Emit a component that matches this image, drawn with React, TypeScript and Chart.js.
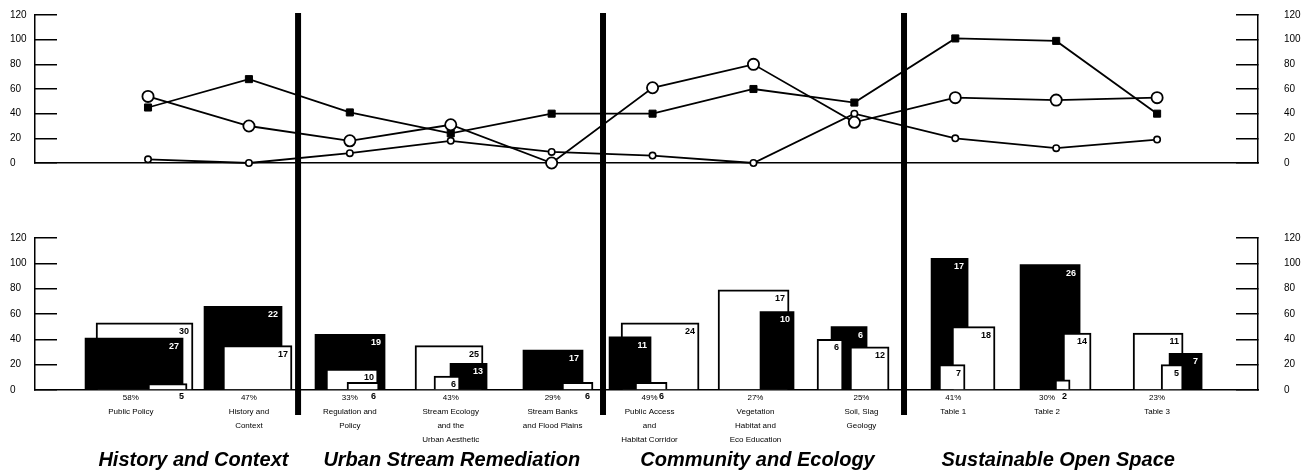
import React, { useEffect, useRef } from "react";
import { Chart, registerables } from "chart.js";

Chart.register(...registerables);
Chart.defaults.font.family = "'Liberation Sans', Arial, sans-serif";
Chart.defaults.color = "#000";

// ---------------- DATA ----------------
const categories = [
  "Public Policy",
  "History and Context",
  "Regulation and Policy",
  "Stream Ecology and the Urban Aesthetic",
  "Stream Banks and Flood Plains",
  "Public Access and Habitat Corridor",
  "Vegetation Habitat and Eco Education",
  "Soil, Slag Geology",
  "Table 1",
  "Table 2",
  "Table 3",
];

const categoryLabels: string[][] = [
  ["58%", "Public Policy"],
  ["47%", "History and", "Context"],
  ["33%", "Regulation and", "Policy"],
  ["43%", "Stream Ecology", "and the", "Urban Aesthetic"],
  ["29%", "Stream Banks", "and Flood Plains"],
  ["49%", "Public Access", "and", "Habitat Corridor"],
  ["27%", "Vegetation", "Habitat and", "Eco Education"],
  ["25%", "Soil, Slag", "Geology"],
  ["41%", "Table 1"],
  ["30%", "Table 2"],
  ["23%", "Table 3"],
];

const sections = [
  "History and Context",
  "Urban Stream Remediation",
  "Community and Ecology",
  "Sustainable Open Space",
];

const yTicks = [0, 20, 40, 60, 80, 100, 120];

// top line chart
const filledLine = [45, 68, 41, 24, 40, 40, 60, 49, 101, 99, 40];
const openLine = [54, 30, 18, 31, 0, 61, 80, 33, 53, 51, 53];
const smallLine = [3, 0, 8, 18, 9, 6, 0, 40, 20, 12, 19];

// bottom bar chart
const blackBars = [41, 66, 44, 21, 31.5, 42, 62, 50, 104, 99, 29];
const blackCounts = ["27", "22", "19", "13", "17", "11", "10", "6", "17", "26", "7"];
const whiteBars = [53, 35, 16.5, 35, null, 53, 79, 34, 50, 45, 45];
const whiteCounts = ["30", "17", "10", "25", "", "24", "17", "12", "18", "14", "11"];
const smallBars = [5, null, 6, 11, 6, 6, null, 40, 20, 8, 20];
const smallCounts = ["5", "", "6", "6", "6", "6", "", "6", "7", "2", "5"];

// ---------------- LAYOUT ----------------
const X_MIN = -1.12;
const X_MAX = 11.0;
const AREA_LEFT = 35;
const AREA_RIGHT = 1258;
const PX_PER_UNIT = (AREA_RIGHT - AREA_LEFT) / (X_MAX - X_MIN);
const SEPARATORS = [1.487, 4.509, 7.492];
const SECTION_POS = [0.45, 3.01, 6.04, 9.02];
const LABEL_POS = [-0.17, 1, 2, 3, 4.01, 4.97, 6.02, 7.07, 7.98, 8.91, 10];

// bar horizontal extents in category units [start, end]
type Span = [number, number] | null;
const blackSpan: Span[] = [
  [-0.624, 0.347], [0.555, 1.328], [1.655, 2.349], [2.993, 3.36], [3.716, 4.311],
  [4.569, 4.985], [6.065, 6.402], [6.769, 7.126], [7.76, 8.127], [8.642, 9.237], [10.119, 10.446],
];
const whiteSpan: Span[] = [
  [-0.515, 0.446], [0.743, 1.427], [1.764, 2.28], [2.646, 3.32], null,
  [4.688, 5.461], [5.649, 6.353], [6.957, 7.344], [7.968, 8.394], [9.068, 9.346], [9.762, 10.258],
];
const smallSpan: Span[] = [
  [0, 0.387], null, [1.972, 2.29], [2.834, 3.092], [4.103, 4.41],
  [4.827, 5.144], null, [6.63, 6.888], [7.839, 8.097], [8.989, 9.138], [10.04, 10.258],
];

function yAxis(position: "left" | "right") {
  return {
    type: "linear",
    position,
    min: 0,
    max: 120,
    afterBuildTicks: (s: any) => {
      s.ticks = yTicks.map((v) => ({ value: v }));
    },
    ticks: {
      color: "#000",
      autoSkip: false,
      font: { size: 10 },
      padding: position === "left" ? 0 : 48,
      crossAlign: position === "left" ? "far" : "near",
    },
    grid: {
      display: true,
      drawOnChartArea: false,
      drawTicks: true,
      tickLength: -22,
      color: "#000",
      lineWidth: 1.5,
    },
    border: { display: true, color: "#000", width: 1.5 },
    afterFit: (s: any) => {
      s.width = position === "left" ? 25 : 54;
      s.paddingTop = 0;
      s.paddingBottom = 0;
    },
  };
}

function separatorDatasets(yLow: number, yHigh: number) {
  return SEPARATORS.map((sx) => ({
    type: "line",
    data: [
      { x: sx, y: yLow },
      { x: sx, y: yHigh },
    ],
    borderColor: "#000",
    borderWidth: 6,
    pointRadius: 0,
    clip: false,
    order: -10,
  }));
}

const barCountPlugin = {
  id: "barCounts",
  afterDatasetDraw(chart: any, args: any) {
    const ds = chart.data.datasets[args.index];
    if (!ds || !ds.countLabel) return;
    const el = args.meta.data[0];
    if (!el) return;
    const { x, y, base, width } = el.getProps(["x", "y", "base", "width"], true);
    const ctx = chart.ctx;
    ctx.save();
    ctx.font = "bold 9px 'Liberation Sans', Arial, sans-serif";
    ctx.textAlign = "right";
    ctx.textBaseline = "top";
    const tiny = base - y < 12;
    if (tiny) {
      ctx.fillStyle = "#000";
      ctx.fillText(ds.countLabel, x + width / 2 - 3, base + 3);
    } else {
      ctx.fillStyle = ds.backgroundColor === "#000" ? "#fff" : "#000";
      ctx.fillText(ds.countLabel, x + width / 2 - 4, y + 4);
    }
    ctx.restore();
  },
};

function buildBars() {
  const out: any[] = [];
  const add = (vals: (number | null)[], counts: string[], spans: Span[], black: boolean) => {
    vals.forEach((v, i) => {
      const sp = spans[i];
      if (v == null || !sp) return;
      out.push({
        type: "bar",
        label: categories[i],
        data: [{ x: (sp[0] + sp[1]) / 2, y: v }],
        barThickness: (sp[1] - sp[0]) * PX_PER_UNIT,
        grouped: false,
        backgroundColor: black ? "#000" : "#fff",
        borderColor: "#000",
        borderWidth: black ? 0 : 2,
        order: v,
        countLabel: counts[i],
      });
    });
  };
  add(blackBars, blackCounts, blackSpan, true);
  add(whiteBars, whiteCounts, whiteSpan, false);
  add(smallBars, smallCounts, smallSpan, false);
  return out;
}

export default function App() {
  const topRef = useRef<HTMLCanvasElement>(null);
  const botRef = useRef<HTMLCanvasElement>(null);

  useEffect(() => {
    const top = new Chart(topRef.current as HTMLCanvasElement, {
      type: "line",
      data: {
        datasets: [
          {
            data: filledLine.map((v, i) => ({ x: i, y: v })),
            borderColor: "#000",
            borderWidth: 1.8,
            pointStyle: "rect",
            pointRadius: 5,
            pointBackgroundColor: "#000",
            pointBorderColor: "#000",
            pointBorderWidth: 1,
            clip: false,
            order: 3,
          },
          {
            data: smallLine.map((v, i) => ({ x: i, y: v })),
            borderColor: "#000",
            borderWidth: 1.8,
            pointStyle: "circle",
            pointRadius: 3.2,
            pointBackgroundColor: "#fff",
            pointBorderColor: "#000",
            pointBorderWidth: 1.6,
            clip: false,
            order: 2,
          },
          {
            data: openLine.map((v, i) => ({ x: i, y: v })),
            borderColor: "#000",
            borderWidth: 1.8,
            pointStyle: "circle",
            pointRadius: 5.6,
            pointBackgroundColor: "#fff",
            pointBorderColor: "#000",
            pointBorderWidth: 1.8,
            clip: false,
            order: 1,
          },
          ...separatorDatasets(-35, 121.6),
        ] as any,
      },
      options: {
        responsive: false,
        animation: false,
        devicePixelRatio: 1,
        layout: { padding: { left: 10, right: 0, top: 15, bottom: 0 } },
        plugins: { legend: { display: false }, tooltip: { enabled: false } },
        scales: {
          x: {
            type: "linear",
            min: X_MIN,
            max: X_MAX,
            offset: false,
            ticks: { display: false },
            grid: { display: false, drawTicks: false },
            border: { display: true, color: "#000", width: 1.5 },
            afterFit: (s: any) => {
              s.height = 37;
            },
          },
          y: yAxis("left"),
          y2: yAxis("right"),
        } as any,
      },
    });

    const bot = new Chart(botRef.current as HTMLCanvasElement, {
      type: "line",
      data: {
        datasets: [...buildBars(), ...separatorDatasets(-19.7, 160)] as any,
      },
      options: {
        responsive: false,
        animation: false,
        devicePixelRatio: 1,
        layout: { padding: { left: 10, right: 0, top: 38, bottom: 0 } },
        plugins: { legend: { display: false }, tooltip: { enabled: false } },
        scales: {
          x: {
            type: "linear",
            position: "bottom",
            weight: 0,
            min: X_MIN,
            max: X_MAX,
            offset: false,
            afterBuildTicks: (s: any) => {
              s.ticks = LABEL_POS.map((v) => ({ value: v }));
            },
            ticks: {
              autoSkip: false,
              maxRotation: 0,
              minRotation: 0,
              padding: 1,
              color: "#000",
              font: { size: 8, lineHeight: 1.75 },
              callback: (_v: any, i: number) => categoryLabels[i],
            },
            grid: { display: false, drawTicks: false },
            border: { display: true, color: "#000", width: 1.5 },
            afterFit: (s: any) => {
              s.height = 60;
            },
          },
          xt: {
            type: "linear",
            position: "bottom",
            weight: 1,
            min: X_MIN,
            max: X_MAX,
            offset: false,
            afterBuildTicks: (s: any) => {
              s.ticks = SECTION_POS.map((v) => ({ value: v }));
            },
            ticks: {
              autoSkip: false,
              maxRotation: 0,
              minRotation: 0,
              padding: 0,
              color: "#000",
              font: { size: 20, weight: "bold", style: "italic", lineHeight: 1.0 },
              callback: (_v: any, i: number) => sections[i],
            },
            grid: { display: false, drawTicks: false },
            border: { display: false },
            afterFit: (s: any) => {
              s.height = 23;
            },
          },
          y: yAxis("left"),
          y2: yAxis("right"),
        } as any,
      },
      plugins: [barCountPlugin as any],
    });

    return () => {
      top.destroy();
      bot.destroy();
    };
  }, []);

  return (
    <div style={{ position: "absolute", left: 0, top: 0, width: 1312, height: 473, background: "#fff" }}>
      <canvas
        ref={topRef}
        width={1312}
        height={200}
        style={{ position: "absolute", left: 0, top: 0, width: 1312, height: 200, display: "block" }}
      />
      <canvas
        ref={botRef}
        width={1312}
        height={273}
        style={{ position: "absolute", left: 0, top: 200, width: 1312, height: 273, display: "block" }}
      />
    </div>
  );
}
